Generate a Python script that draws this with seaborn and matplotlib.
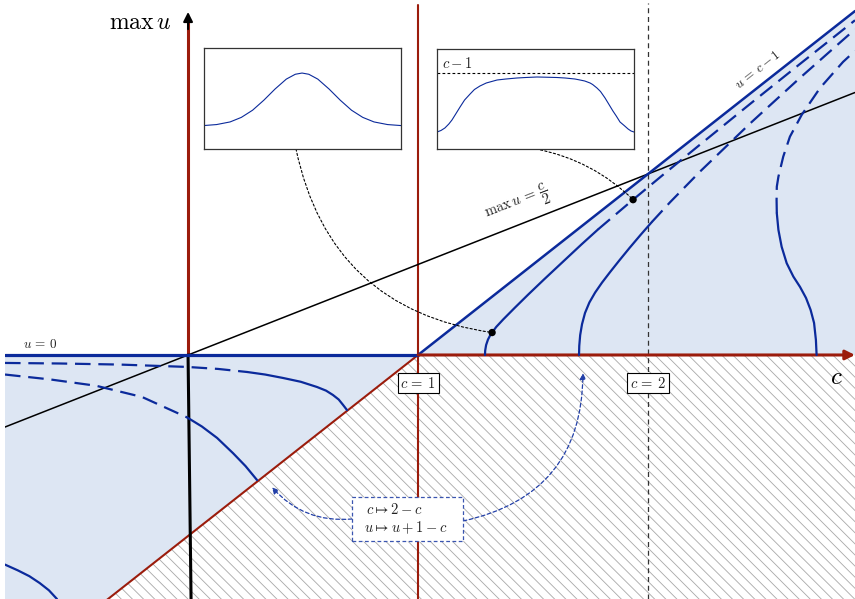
import numpy as np
import pandas as pd
import matplotlib
matplotlib.use('Agg')
import matplotlib.pyplot as plt
from matplotlib.patches import Rectangle
import seaborn as sns

sns.set_theme(style='white')
plt.rcParams['font.family'] = ['DejaVu Serif', 'DejaVu Sans']
plt.rcParams['mathtext.fontset'] = 'cm'
plt.rcParams['hatch.linewidth'] = 0.6
plt.rcParams['hatch.color'] = '#a8a8a8'

BLUE = '#0b2a9b'
LIGHT = '#dde6f3'
RED = '#9b1c0c'
INK = '#222222'
DASH = (0, (7, 3.5))

# plane (c, max u)
c_lim = [-0.796, 2.9]
u_lim = [-1.348, 1.961]
c_break = [-0.796, 1.0, 2.9]

# right-hand branches (c > 1)
r1_solid_c = [1.291, 1.292, 1.296, 1.304, 1.313, 1.322, 1.340, 1.370, 1.420, 1.480, 1.550, 1.630, 1.710, 1.783]
r1_solid_u = [0.000, 0.025, 0.055, 0.085, 0.107, 0.124, 0.155, 0.196, 0.260, 0.335, 0.420, 0.515, 0.610, 0.694]
r1_dash_c = [1.783, 1.935, 2.065, 2.226, 2.443, 2.661, 2.900]
r1_dash_u = [0.694, 0.858, 0.995, 1.162, 1.386, 1.608, 1.849]

r2_solid_c = [1.700, 1.701, 1.705, 1.713, 1.726, 1.745, 1.770, 1.800, 1.835, 1.875, 1.920, 1.968, 2.017]
r2_solid_u = [0.000, 0.050, 0.110, 0.170, 0.232, 0.290, 0.345, 0.400, 0.458, 0.522, 0.592, 0.664, 0.735]
r2_dash_c = [2.017, 2.096, 2.226, 2.443, 2.661, 2.900]
r2_dash_u = [0.735, 0.844, 1.013, 1.278, 1.531, 1.799]

r3_solid_c = [2.733, 2.730, 2.722, 2.707, 2.687, 2.661, 2.632, 2.603, 2.581, 2.567, 2.560]
r3_solid_u = [0.000, 0.083, 0.177, 0.249, 0.315, 0.376, 0.433, 0.507, 0.598, 0.691, 0.783]
r3_dash_c = [2.560, 2.559, 2.560, 2.567, 2.588, 2.617, 2.668, 2.748, 2.848, 2.900]
r3_dash_u = [0.783, 0.856, 0.930, 0.985, 1.096, 1.206, 1.326, 1.475, 1.619, 1.680]

# left-hand branches (c < 1)
l1_dash_c = [-0.796, -0.557, -0.296, -0.004, 0.130, 0.257]
l1_dash_u = [-0.044, -0.047, -0.053, -0.066, -0.077, -0.094]
l1_solid_c = [0.257, 0.335, 0.413, 0.490, 0.561, 0.600, 0.630, 0.655, 0.674, 0.691]
l1_solid_u = [-0.094, -0.108, -0.127, -0.148, -0.177, -0.197, -0.221, -0.246, -0.276, -0.304]

l2_dash_c = [-0.796, -0.600, -0.400, -0.200, -0.004]
l2_dash_u = [-0.108, -0.135, -0.170, -0.232, -0.345]
l2_solid_c = [-0.004, 0.060, 0.126, 0.196, 0.250, 0.300]
l2_solid_u = [-0.345, -0.395, -0.458, -0.543, -0.614, -0.691]

l3_c = [-0.796, -0.740, -0.690, -0.645, -0.605, -0.570]
l3_u = [-1.158, -1.190, -1.222, -1.260, -1.300, -1.348]

# inset profiles
in1_x = [-2.16, -1.9, -1.6, -1.35, -1.1, -0.85, -0.6, -0.35, -0.15, 0.0,
         0.15, 0.35, 0.6, 0.85, 1.1, 1.35, 1.6, 1.9, 2.2]
in1_y = [0.233, 0.242, 0.268, 0.313, 0.384, 0.483, 0.594, 0.692, 0.740, 0.752,
         0.740, 0.692, 0.594, 0.483, 0.384, 0.313, 0.268, 0.242, 0.232]
in2_x = [0.0, 0.02, 0.04, 0.06, 0.076, 0.095, 0.117, 0.14, 0.168, 0.19, 0.218, 0.25, 0.305, 0.35,
         0.406, 0.45, 0.508, 0.55, 0.609, 0.65, 0.70, 0.726, 0.75, 0.777, 0.79, 0.812, 0.83,
         0.853, 0.87, 0.893, 0.91, 0.929, 0.95, 0.970, 0.985, 1.0]
in2_y = [0.17, 0.185, 0.21, 0.25, 0.29, 0.35, 0.42, 0.49, 0.55, 0.595, 0.63, 0.66, 0.69, 0.70,
         0.71, 0.715, 0.72, 0.718, 0.715, 0.71, 0.70, 0.69, 0.68, 0.66, 0.645, 0.61, 0.575,
         0.51, 0.455, 0.38, 0.33, 0.27, 0.235, 0.20, 0.18, 0.17]
in2_level = 0.76

fig = plt.figure(figsize=(8.55, 5.99), dpi=100)
ax = fig.add_axes([5 / 855, 0, 850 / 855, 1])
ax.set_xlim(c_lim)
ax.set_ylim(u_lim)
ax.axis('off')

# regions
ax.fill_between(c_break, 0, [c - 1 for c in c_break], color=LIGHT, lw=0, zorder=0.5)
ax.fill_between(c_break, u_lim[0], [min(0, c - 1) for c in c_break],
                facecolor='none', edgecolor='#a8a8a8', hatch='\\\\\\', lw=0, zorder=0.6)

# straight lines
ax.plot(c_lim, [c / 2 for c in c_lim], color='black', lw=1.1, zorder=3)
ax.plot([c_lim[0], 1], [c_lim[0] - 1, 0], color=RED, lw=1.5, zorder=2)
ax.axvline(1, ymax=594 / 599, color=RED, lw=1.5, zorder=2)
ax.axvline(2, ymax=596 / 599, color='#333333', lw=0.9, ls=(0, (4, 3)), zorder=2)
ax.plot([0, 0], [0, 1.85], color=RED, lw=2.2, zorder=2)
ax.plot([0, 0.013], [0, u_lim[0]], color='black', lw=2.2, zorder=2)
ax.annotate('', xy=(0, 1.895), xytext=(0, 1.80),
            arrowprops=dict(arrowstyle='-|>', color='black', lw=1.5, mutation_scale=14,
                            shrinkA=0, shrinkB=0), zorder=4)
ax.plot([c_lim[0], 1], [0, 0], color=BLUE, lw=2.3, zorder=3)
ax.plot([1, c_lim[1]], [0, c_lim[1] - 1], color=BLUE, lw=1.8, zorder=3)
ax.annotate('', xy=(c_lim[1], 0), xytext=(1, 0),
            arrowprops=dict(arrowstyle='-|>', color=RED, lw=2.2, mutation_scale=14,
                            shrinkA=0, shrinkB=0), zorder=3)


def branch(c, u, dashed=False):
    sns.lineplot(x=c, y=u, sort=False, estimator=None, color=BLUE, lw=1.6, ax=ax, zorder=3)
    if dashed:
        ax.lines[-1].set_linestyle(DASH)


for c, u, d in [(r1_solid_c, r1_solid_u, False), (r1_dash_c, r1_dash_u, True),
                (r2_solid_c, r2_solid_u, False), (r2_dash_c, r2_dash_u, True),
                (r3_solid_c, r3_solid_u, False), (r3_dash_c, r3_dash_u, True),
                (l1_dash_c, l1_dash_u, True), (l1_solid_c, l1_solid_u, False),
                (l2_dash_c, l2_dash_u, True), (l2_solid_c, l2_solid_u, False),
                (l3_c, l3_u, False)]:
    branch(c, u, d)

dots = pd.DataFrame({'c': [r1_solid_c[5], r1_dash_c[1]], 'u': [r1_solid_u[5], r1_dash_u[1]]})
sns.scatterplot(data=dots, x='c', y='u', color='black', s=28, ax=ax, zorder=6, edgecolor='none')

# labels
ax.text(-0.643, 0.058, r'$u\,=\,0$', fontsize=9.5, color=INK, ha='center', va='center')
ax.text(2.478, 1.575, r'$u\,=\,c-1$', fontsize=9.5, color=INK, ha='center', va='center',
        rotation=38.2, rotation_mode='anchor')
ax.text(1.435, 0.835, r'$\max\,u\,=\,\dfrac{c}{2}$', fontsize=10.5, color=INK, ha='center',
        va='center', rotation=21.4, rotation_mode='anchor')
ax.text(-0.209, 1.834, r'$\max\,u$', fontsize=17, color='black', ha='center', va='center')
ax.text(2.817, -0.127, r'$c$', fontsize=18, color='black', ha='center', va='center')
for cv in [1, 2]:
    ax.text(cv, -0.155, rf'$c\,=\,{cv}$', fontsize=10.5, color=INK, ha='center', va='center',
            zorder=7, bbox=dict(boxstyle='square,pad=0.2', fc='white', ec='black', lw=0.8))

# mapping box and arrows
box_c0, box_c1, box_u0, box_u1 = 0.713, 1.196, -1.028, -0.785
ax.add_patch(Rectangle((box_c0, box_u0), box_c1 - box_c0, box_u1 - box_u0, fc='white',
                       ec='#3a55b0', lw=0.9, ls=(0, (3, 2)), zorder=7))
ax.text(0.775, -0.851, r'$c\mapsto 2-c$', fontsize=10.5, color=INK, ha='left', va='center', zorder=8)
ax.text(0.765, -0.956, r'$u\mapsto u+1-c$', fontsize=10.5, color=INK, ha='left', va='center', zorder=8)
ax.annotate('', xy=(l2_solid_c[-1] + 0.065, l2_solid_u[-1] - 0.04), xytext=(box_c0, -0.906),
            arrowprops=dict(arrowstyle='-|>', color='#2340a8', lw=0.9, ls=(0, (3, 2)),
                            connectionstyle='arc3,rad=-0.25', mutation_scale=9,
                            shrinkA=0, shrinkB=0), zorder=6)
ax.annotate('', xy=(r2_solid_c[0] + 0.017, -0.1), xytext=(box_c1, -0.917),
            arrowprops=dict(arrowstyle='-|>', color='#2340a8', lw=0.9, ls=(0, (3, 2)),
                            connectionstyle='arc3,rad=0.4', mutation_scale=9,
                            shrinkA=0, shrinkB=0), zorder=6)

# insets
ax1 = fig.add_axes([204 / 855, 1 - 149 / 599, 197 / 855, 101 / 599])
sns.lineplot(x=in1_x, y=in1_y, sort=False, estimator=None, color=BLUE, lw=0.8, ax=ax1)
ax1.set_xlim(-2.18, 2.2)
ax1.set_ylim(0, 1)

ax2 = fig.add_axes([437 / 855, 1 - 149 / 599, 197 / 855, 100 / 599])
sns.lineplot(x=in2_x, y=in2_y, sort=False, estimator=None, color=BLUE, lw=0.8, ax=ax2)
ax2.axhline(in2_level, color='black', lw=0.8, ls=(0, (2.5, 2)))
ax2.text(0.025, 0.86, r'$c-1$', fontsize=10.5, color=INK, transform=ax2.transAxes, va='center')
ax2.set_xlim(0, 1)
ax2.set_ylim(0, 1)

for a in (ax1, ax2):
    a.set_xticks([])
    a.set_yticks([])
    a.set_xlabel('')
    a.set_ylabel('')
    a.set_facecolor('white')
    for s in a.spines.values():
        s.set_color('#333333')
        s.set_linewidth(0.9)

# connectors from insets to the marked points
ax.annotate('', xy=(dots.c[0], dots.u[0]), xytext=(0.467, 0), textcoords=ax1.transAxes,
            arrowprops=dict(arrowstyle='-', color='black', lw=0.8, ls=(0, (2, 2)),
                            connectionstyle='arc3,rad=0.35', shrinkA=0, shrinkB=0), zorder=5)
ax.annotate('', xy=(dots.c[1], dots.u[1]), xytext=(0.503, 0), textcoords=ax2.transAxes,
            arrowprops=dict(arrowstyle='-', color='black', lw=0.8, ls=(0, (2, 2)),
                            connectionstyle='arc3,rad=-0.15', shrinkA=0, shrinkB=0), zorder=5)

fig.savefig('out.png', dpi=100)
